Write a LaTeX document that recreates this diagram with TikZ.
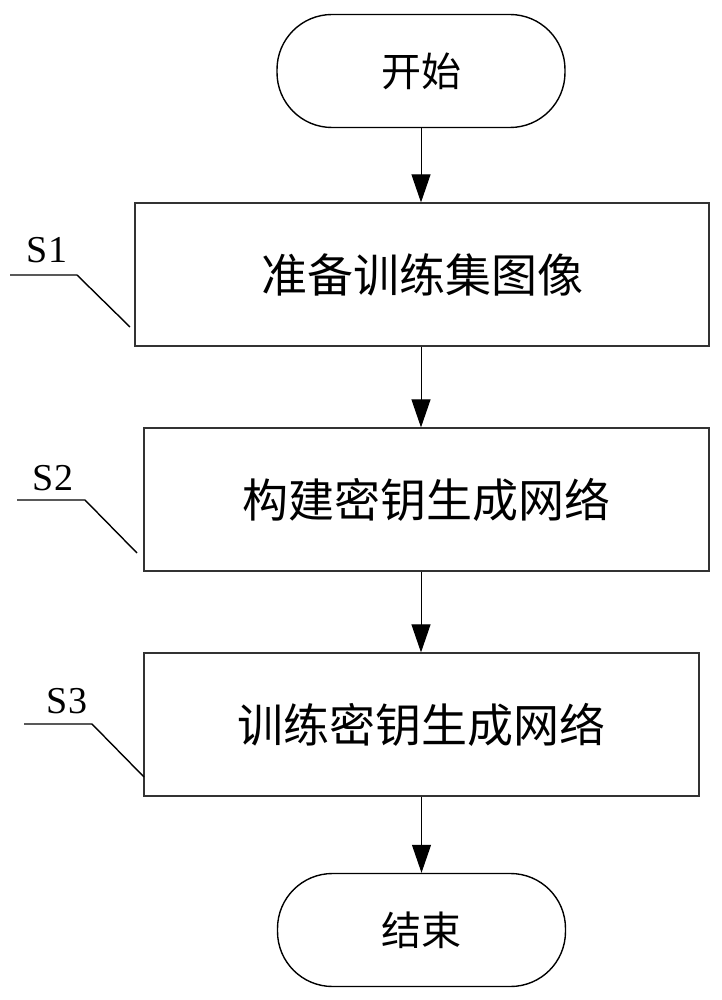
\documentclass[tikz,border=0pt]{standalone}
\usepackage{fontspec}
\setmainfont{Liberation Serif}
\newfontfamily\cjk{Noto Sans CJK SC}
\usetikzlibrary{arrows.meta}

\tikzset{
  term/.style={draw, line width=1.4pt, rounded corners=55pt, minimum width=288pt,
    minimum height=113pt, font=\cjk\fontsize{40}{44}\selectfont},
  stepbox/.style={draw=black!80, line width=1.2pt, minimum height=143pt,
    font=\cjk\fontsize{46}{50}\selectfont},
  flow/.style={line width=1pt, -{Triangle[length=28pt,width=19pt]}},
  lead/.style={line width=1.4pt},
  tag/.style={font=\fontsize{38}{40}\selectfont}
}

\begin{document}
\begin{tikzpicture}[x=1pt,y=-1pt]
    \useasboundingbox (0,0) rectangle (721,1000);

    % start / end
    \node[term] (start) at (421,71) {开始};
    \node[term] (end) at (421.5,930) {结束};

    % steps
    \node[stepbox, minimum width=574pt] (s1box) at (422,274.5) {准备训练集图像};
    \node[stepbox, minimum width=565pt] (s2box) at (426.5,499.5) {构建密钥生成网络};
    \node[stepbox, minimum width=555pt] (s3box) at (421.5,724.5) {训练密钥生成网络};

    % flow
    \draw[flow] (start.south) -- (start.south |- s1box.north);
    \draw[flow] (s1box.south -| start.south) -- (start.south |- s2box.north);
    \draw[flow] (s2box.south -| start.south) -- (start.south |- s3box.north);
    \draw[flow] (s3box.south -| end.north) -- (end.north);

    % tags
    %% S1
    \node[tag] (s1tag) at (47,250) {S1};
    \draw[lead] (10,275) -- (77,275) -- (130,327);
    %% S2
    \node[tag] (s2tag) at (53,478) {S2};
    \draw[lead] (17,500) -- (85,500) -- (137,553);
    %% S3
    \node[tag] (s3tag) at (67,701) {S3};
    \draw[lead] (24,724) -- (92,724) -- (144,777);
\end{tikzpicture}
\end{document}
